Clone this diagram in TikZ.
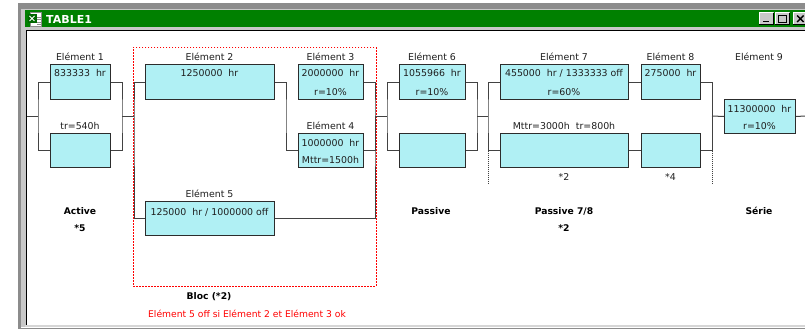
\documentclass[tikz,border=0pt]{standalone}
\usepackage{fontspec}
\newfontfamily\dvs{DejaVu Sans}

\definecolor{cellfill}{RGB}{176,240,244}
\definecolor{cellline}{RGB}{44,44,44}
\definecolor{wire}{RGB}{66,66,66}
\definecolor{titlegreen}{RGB}{0,128,0}
\definecolor{frameface}{RGB}{200,200,200}
\definecolor{frameshadow}{RGB}{140,140,140}
\definecolor{framelight}{RGB}{214,214,214}

\tikzset{
  cell/.style={draw=cellline, fill=cellfill, line width=1pt, inner sep=0pt, anchor=north west},
  wiring/.style={draw=wire, line width=1pt},
  dotwire/.style={draw=wire, line width=0.8pt, dash pattern=on 1pt off 1pt},
  blocframe/.style={draw=red, line width=0.8pt, dash pattern=on 1.5pt off 1.5pt, inner sep=0pt, anchor=north west},
  txt/.style={font={\dvs\fontsize{9.4}{11}\selectfont}, text=black!88, inner sep=0pt, anchor=base},
  hd/.style={font={\dvs\bfseries\fontsize{9.2}{11}\selectfont}, inner sep=0pt, anchor=base},
  note/.style={font={\dvs\fontsize{9.2}{11}\selectfont}, inner sep=0pt, anchor=base, text=red},
  wintitle/.style={font={\dvs\bfseries\fontsize{11}{13}\selectfont}, text=white, inner sep=0pt, anchor=base west},
}

\begin{document}
\begin{tikzpicture}[x=1pt,y=-1pt]
\useasboundingbox (0,0) rectangle (805,329);

% ---------- window frame ----------
\fill[white] (0,0) rectangle (805,329);
\fill[frameshadow] (17.5,3) rectangle (805,329);
\fill[frameface] (21,9) rectangle (805,327.5);
\fill[white] (21,326.5) rectangle (805,327.5);
\fill[framelight] (25,325) rectangle (805,326.5);
\fill[titlegreen] (25,10) rectangle (805,27.5);
\fill[black] (26,30) rectangle (805,325);
\fill[white] (27,31) rectangle (805,325);

% title icon
\fill[white] (30,12.5) rectangle (41.5,26.5);
\draw[frameshadow, line width=0.6pt] (30,12.5) rectangle (41.5,26.5);
\foreach \yy in {17,19.5,22,24.5} \draw[frameshadow, line width=0.6pt] (37,\yy) -- (40.5,\yy);
\fill[titlegreen!80!black] (27.5,14) rectangle (36.5,23);
\draw[white, line width=0.9pt] (29.5,16) -- (34.5,21) (34.5,16) -- (29.5,21);
\node[wintitle] (wtitle) at (46,23.3) {TABLE1};

% caption buttons
\foreach \bx/\ex in {759/773.5, 774.5/789.5, 792.5/807} {
  \fill[frameface] (\bx,12.5) rectangle (\ex,25);
  \draw[white, line width=0.8pt] (\bx+0.4,24.6) -- (\bx+0.4,12.9) -- (\ex-0.4,12.9);
  \draw[black, line width=0.8pt] (\bx+0.4,24.6) -- (\ex-0.4,24.6) -- (\ex-0.4,12.9);
}
\fill[black] (763,20.7) rectangle (769,22.5);
\draw[black, line width=0.8pt] (778,15) rectangle (786.5,22.5);
\fill[black] (778,15) rectangle (786.5,16.5);
\draw[black, line width=1.4pt] (797,15.5) -- (803.5,22) (803.5,15.5) -- (797,22);

% ---------- block frame ----------
\node[blocframe, minimum width=242.5pt, minimum height=239pt] (bloc) at (133,47) {};

% ---------- cells ----------
\node[cell, minimum width=60pt,  minimum height=35pt] (e1a) at (50,64) {};
\node[cell, minimum width=60pt,  minimum height=34pt] (e1b) at (50,133) {};
\node[cell, minimum width=129pt, minimum height=35pt] (e2)  at (145,64) {};
\node[cell, minimum width=65pt,  minimum height=35pt] (e3)  at (298,64) {};
\node[cell, minimum width=65pt,  minimum height=34pt] (e4)  at (298,133) {};
\node[cell, minimum width=129pt, minimum height=34pt] (e5)  at (145,201) {};
\node[cell, minimum width=66pt,  minimum height=35pt] (e6a) at (399,64) {};
\node[cell, minimum width=66pt,  minimum height=34pt] (e6b) at (399,133) {};
\node[cell, minimum width=128pt, minimum height=35pt] (e7a) at (500,64) {};
\node[cell, minimum width=128pt, minimum height=34pt] (e7b) at (500,133) {};
\node[cell, minimum width=59pt,  minimum height=35pt] (e8a) at (641,64) {};
\node[cell, minimum width=59pt,  minimum height=34pt] (e8b) at (641,133) {};
\node[cell, minimum width=71pt,  minimum height=34pt] (e9)  at (724,99) {};

% ---------- junctions ----------
\coordinate (in0) at (27,116);
\coordinate (j1l) at (38,116);
\coordinate (j1r) at (122,116);
\coordinate (j2l) at (134,116);
\coordinate (j3l) at (286,116);
\coordinate (j3r) at (375,116);
\coordinate (j4l) at (387,116);
\coordinate (j4r) at (477,116);
\coordinate (j5l) at (488,116);
\coordinate (j5r) at (712,116);
\coordinate (out0) at (805,116);
\coordinate (d1) at (488,184);
\coordinate (d2) at (712,184);

% ---------- wiring ----------
\draw[wiring] (in0) -- (j1l);
\draw[wiring] (e1a.west) -| (j1l) |- (e1b.west);
\draw[wiring] (e1a.east) -| (j1r) |- (e1b.east);
\draw[wiring] (j1r) -- (j2l);
\draw[wiring] (e2.west) -| (j2l) |- (e5.west);
\draw[wiring] (e2.east) -| (j3l) |- (e4.west);
\draw[wiring] (e3.east) -| (j3r) |- (e5.east);
\draw[wiring] (e4.east) -| (j3r);
\draw[wiring] (j3r) -- (j4l);
\draw[wiring] (e6a.west) -| (j4l) |- (e6b.west);
\draw[wiring] (e6a.east) -| (j4r) |- (e6b.east);
\draw[wiring] (j4r) -- (j5l);
\draw[wiring] (e7a.west) -| (j5l) |- (e7b.west);
\draw[wiring] (e7a.east) -- (e8a.west);
\draw[wiring] (e7b.east) -- (e8b.west);
\draw[wiring] (e8a.east) -| (j5r) |- (e8b.east);
\draw[wiring] (j5r) -- (e9.west);
\draw[wiring] (e9.east) -- (out0);
\draw[dotwire] (j5l |- e7b.west) -- (d1);
\draw[dotwire] (j5r |- e8b.east) -- (d2);

% ---------- element titles ----------
\node[txt] (h1) at (80,60.5) {Elément 1};
\node[txt] (h2) at (209.5,60.5) {Elément 2};
\node[txt] (h3) at (330.5,60.5) {Elément 3};
\node[txt] (h4) at (330.5,129.5) {Elément 4};
\node[txt] (h5) at (209.5,197.7) {Elément 5};
\node[txt] (h6) at (432,60.5) {Elément 6};
\node[txt] (h7) at (564,60.5) {Elément 7};
\node[txt] (h8) at (670.5,60.5) {Elément 8};
\node[txt] (h9) at (759,60.5) {Elément 9};
\node[txt] (h1b) at (80,129.5) {tr=540h};
\node[txt] (h7b) at (564,129.5) {Mttr=3000h\ \ tr=800h};

% ---------- cell contents ----------
\node[txt] (c1) at (80,77) {833333\ \ hr};
\node[txt] (c2) at (209.5,77) {1250000\ \ hr};
\node[txt] (c3) at (330.5,77) {2000000\ \ hr};
\node[txt] (c3b) at (330.5,95) {r=10\%};
\node[txt] (c4) at (330.5,146) {1000000\ \ hr};
\node[txt] (c4b) at (330.5,163.5) {Mttr=1500h};
\node[txt] (c5) at (209.5,215) {125000\ \ hr / 1000000 off};
\node[txt] (c6) at (432,77) {1055966\ \ hr};
\node[txt] (c6b) at (432,95) {r=10\%};
\node[txt] (c7) at (564,77) {455000\ \ hr / 1333333 off};
\node[txt] (c7b) at (564,95) {r=60\%};
\node[txt] (c8) at (670.5,77) {275000\ \ hr};
\node[txt] (c9) at (759.5,112.3) {11300000\ \ hr};
\node[txt] (c9b) at (759.5,129.3) {r=10\%};
\node[txt] (m7) at (564,180) {*2};
\node[txt] (m8) at (670.5,180) {*4};

% ---------- group captions ----------
\node[hd] (g1) at (80,214.3) {Active};
\node[hd] (g1b) at (80,231.7) {*5};
\node[hd] (g2) at (209,299) {Bloc (*2)};
\node[note] (g2b) at (247,317) {Elément 5 off si Elément 2 et Elément 3 ok};
\node[hd] (g3) at (431,214.3) {Passive};
\node[hd] (g4) at (564,214.3) {Passive 7/8};
\node[hd] (g4b) at (564,231.7) {*2};
\node[hd] (g5) at (759,214.3) {Série};
\end{tikzpicture}
\end{document}
